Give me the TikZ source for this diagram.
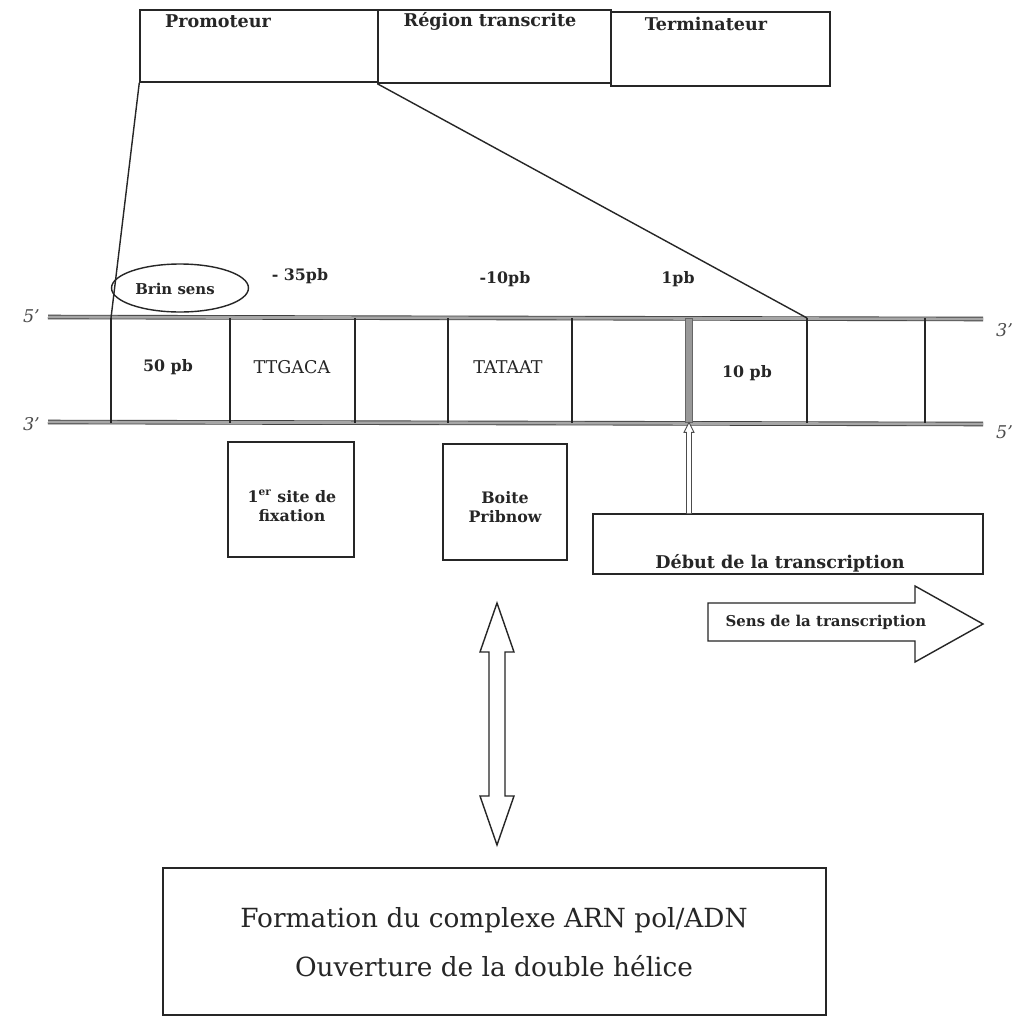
\documentclass[tikz,border=0pt]{standalone}
\usepackage{fontspec}
\setmainfont{DejaVu Serif}
\usetikzlibrary{fit,calc,shapes.geometric}

\begin{document}
\begin{tikzpicture}[x=0.02cm,y=-0.02cm,
  edge/.style={draw=black!85, line width=0.8pt},
  boxfit/.style={draw=black!85, line width=0.8pt, inner sep=0pt, rectangle},
  strand/.style={draw=black!75, line width=0.5pt, double=black!35, double distance=1.6pt},
  lab/.style={font=\bfseries\fontsize{9}{11}\selectfont, text=black!85},
  head/.style={font=\bfseries\fontsize{10}{12}\selectfont, text=black!85},
  seq/.style={font=\fontsize{10}{12}\selectfont, text=black!85},
  endlab/.style={font=\itshape\fontsize{10}{12}\selectfont, text=black!70},
  big/.style={font=\fontsize{15}{18}\selectfont, text=black!85},
  hollow/.style={draw=black!85, line width=0.8pt, fill=white, line join=miter}]

% page frame
\fill[white] (0,0) rectangle (1014,1035);
\useasboundingbox (0,0) rectangle (1014,1035);

% ---- gene overview ----
\path (140,10) coordinate (pNW) (378,82) coordinate (pSE)
      (378,10) coordinate (rNW) (611,83) coordinate (rSE)
      (611,12) coordinate (tNW) (830,86) coordinate (tSE);
\node[boxfit, fit=(pNW)(pSE)] (prom) {};
\node[boxfit, fit=(rNW)(rSE)] (region) {};
\node[boxfit, fit=(tNW)(tSE)] (term) {};
\node[head] (promT) at (218,21) {Promoteur};
\node[head] (regT) at (490,21) {Région transcrite};
\node[head] (termT) at (706,24) {Terminateur};

% ---- double strand ----
\coordinate (s5) at (48,317);
\coordinate (s3e) at (983,319);
\coordinate (b3) at (48,422);
\coordinate (b5e) at (983,424);
\draw[strand] (s5) -- (s3e);
\draw[strand] (b3) -- (b5e);
\node[endlab, anchor=east] (l5) at (46,316) {5'};
\node[endlab, anchor=east] (l3) at (46,424) {3'};
\node[endlab, anchor=west] (r3) at (990,330) {3'};
\node[endlab, anchor=west] (r5) at (990,432) {5'};

% cell dividers
\foreach \n/\x in {d0/111, d1/230, d2/355, d3/448, d4/572, d6/807, d7/925}{
  \coordinate (\n t) at (\x,318);
  \coordinate (\n b) at (\x,423);
  \draw[edge] (\n t) -- (\n b);
}
% start point of transcription (+1)
\node[fill=black!40, draw=black!60, line width=0.4pt, minimum width=0.14cm,
      minimum height=2.08cm, inner sep=0pt] (plus1) at (689,370) {};

% zoom lines from the gene to the strand
\draw[edge] (prom.south west) -- (d0t);
\draw[edge] (region.south west) -- (d6t);

% cell contents
\node[lab] (c50) at (168,367) {50 pb};
\node[seq] (c35) at (292,367) {TTGACA};
\node[seq] (c10) at (508,367) {TATAAT};
\node[lab] (c10pb) at (747,373) {10 pb};

% positions above the strand
\node[draw=black!85, line width=0.8pt, ellipse, minimum width=2.74cm,
      minimum height=0.96cm, inner sep=0pt] (brin) at (180,288) {};
\node[lab, font=\bfseries\fontsize{8.5}{10}\selectfont] (brinT) at (175,289) {Brin sens};
\node[lab] (m35) at (300,276) {- 35pb};
\node[lab] (m10) at (505,279) {-10pb};
\node[lab] (p1) at (678,279) {1pb};

% ---- boxes under the strand ----
\path (228,442) coordinate (fNW) (354,557) coordinate (fSE)
      (443,444) coordinate (bNW) (567,560) coordinate (bSE)
      (593,514) coordinate (dNW) (983,574) coordinate (dSE);
\node[boxfit, fit=(fNW)(fSE)] (fix) {};
\node[boxfit, fit=(bNW)(bSE)] (pribnow) {};
\node[boxfit, fit=(dNW)(dSE)] (debut) {};
\node[lab, align=center] (fixT) at (292,506) {1\textsuperscript{er} site de\\fixation};
\node[lab, align=center] (pribT) at (505,507) {Boite\\Pribnow};
\node[head] (debT) at (780,563) {Début de la transcription};

% arrow from the start box to the +1 site
\coordinate (ua) at (debut.north -| plus1.south);
\coordinate (ub) at (plus1.south);
\draw[draw=black!70, line width=0.5pt, fill=white]
  ($(ua)+(-2.5,0)$) -- ($(ub)+(-2.5,10)$) -- ($(ub)+(-5,10)$) -- (ub)
  -- ($(ub)+(5,10)$) -- ($(ub)+(2.5,10)$) -- ($(ua)+(2.5,0)$);

% direction of transcription
\coordinate (sensTip) at (983,624);
\draw[hollow]
  (708,603) -- (915,603) -- (915,586) -- (sensTip) -- (915,662)
  -- (915,641) -- (708,641) -- cycle;
\node[lab, font=\bfseries\fontsize{8.5}{10}\selectfont] (sensT) at (826,622) {Sens de la transcription};

% ---- two-headed arrow to the complex ----
\coordinate (dTop) at (497,603);
\coordinate (dBot) at (497,845);
\draw[hollow]
  (dTop) -- ($(dTop)+(17,49)$) -- ($(dTop)+(8,49)$) -- ($(dBot)+(8,-49)$)
  -- ($(dBot)+(17,-49)$) -- (dBot) -- ($(dBot)+(-17,-49)$) -- ($(dBot)+(-8,-49)$)
  -- ($(dTop)+(-8,49)$) -- ($(dTop)+(-17,49)$) -- cycle;

% ---- complex formation ----
\path (163,868) coordinate (cNW) (826,1015) coordinate (cSE);
\node[boxfit, fit=(cNW)(cSE)] (complex) {};
\node[big] (cx1) at (494,920) {Formation du complexe ARN pol/ADN};
\node[big] (cx2) at (494,966) {Ouverture de la double hélice};

\end{tikzpicture}
\end{document}
